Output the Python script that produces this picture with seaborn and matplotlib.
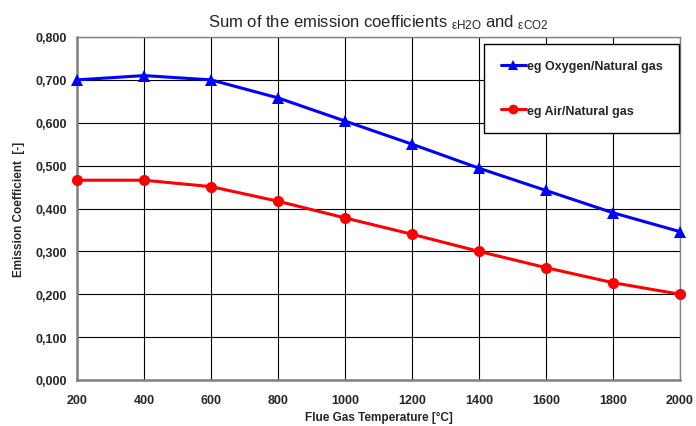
import matplotlib
matplotlib.use("Agg")
import matplotlib.pyplot as plt
import seaborn as sns
import pandas as pd

temps = [200, 400, 600, 800, 1000, 1200, 1400, 1600, 1800, 2000]
oxygen = [0.700, 0.710, 0.700, 0.658, 0.604, 0.550, 0.494, 0.442, 0.390, 0.346]
air = [0.466, 0.466, 0.451, 0.417, 0.378, 0.340, 0.300, 0.262, 0.227, 0.200]
series_names = ["eg Oxygen/Natural gas", "eg Air/Natural gas"]
yticks = [0.0, 0.1, 0.2, 0.3, 0.4, 0.5, 0.6, 0.7, 0.8]

df = pd.DataFrame({
    "T": temps * 2,
    "val": oxygen + air,
    "series": [series_names[0]] * len(temps) + [series_names[1]] * len(temps),
})

sns.set_style("white")
plt.rcParams["font.family"] = ["Liberation Sans", "DejaVu Sans"]

fig = plt.figure(figsize=(6.96, 4.27), dpi=100)
ax = fig.add_axes([77/696, 1-381/427, (680-77)/696, (381-38)/427])

sns.lineplot(data=df, x="T", y="val", hue="series", style="series",
             markers={series_names[0]: "^", series_names[1]: "o"}, dashes=False,
             palette={series_names[0]: "#0000ff", series_names[1]: "#ff0000"},
             linewidth=2.2, markersize=8, markeredgewidth=0, ax=ax)
for ln in ax.lines:
    ln.set_clip_on(False)
    ln.set_zorder(5)

ax.set_xlim(200, 2000)
ax.set_ylim(0, 0.8)
ax.set_xticks(temps)
ax.set_yticks(yticks)
ax.set_yticklabels([f"{v:.3f}".replace(".", ",") for v in yticks])
ax.set_xticklabels([str(t) for t in temps])
for lbl in ax.get_xticklabels() + ax.get_yticklabels():
    lbl.set_fontweight("bold")
    lbl.set_fontsize(9)
ax.tick_params(axis="both", direction="out", length=4, width=1, color="#808080", pad=3)
ax.tick_params(axis="x", pad=6)
ax.grid(True, color="black", linewidth=0.8)
ax.set_axisbelow(True)
for side in ["left", "bottom"]:
    ax.spines[side].set_color("#808080")
    ax.spines[side].set_linewidth(1.8)
for side in ["top", "right"]:
    ax.spines[side].set_color("#808080")
    ax.spines[side].set_linewidth(1.0)

ax.set_xlabel("Flue Gas Temperature [°C]", fontsize=8.5, fontweight="bold", labelpad=4)
ax.set_ylabel("Emission Coefficient  [-]", fontsize=8.5, fontweight="bold", labelpad=8)
ax.set_title(r"Sum of the emission coefficients $\mathregular{_{εH2O}}$ and $\mathregular{_{εCO2}}$",
             fontsize=12, pad=8)

leg = ax.legend(loc="upper right", bbox_to_anchor=(0.999, 0.98), frameon=True, fancybox=False,
                framealpha=1, edgecolor="black", labelspacing=2.6, borderpad=1.3,
                handlelength=2.0, handletextpad=0.15, borderaxespad=0.0,
                prop={"weight": "bold", "size": 9})
leg.get_frame().set_linewidth(1.0)
for h in leg.legend_handles:
    h.set_markersize(7)

fig.savefig("out.png", dpi=100)
